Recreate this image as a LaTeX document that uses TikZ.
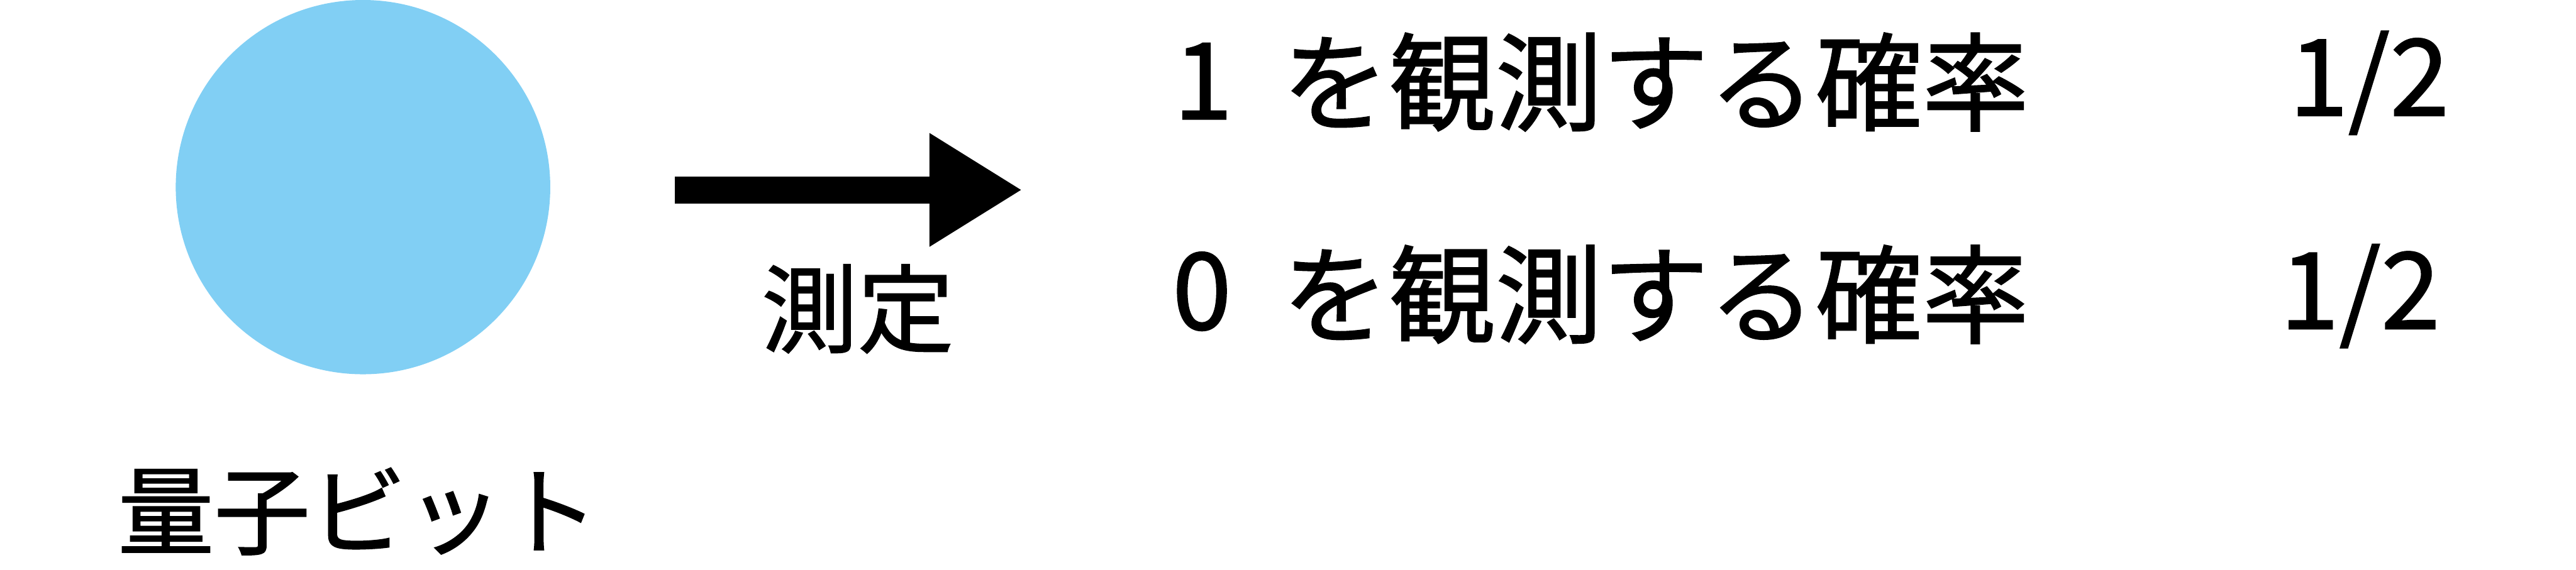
\documentclass[tikz,border=0pt]{standalone}
\usepackage{fontspec}
\setmainfont{Noto Sans CJK JP}[FakeBold=1.2]
\usetikzlibrary{arrows.meta}
\definecolor{qblue}{RGB}{129,207,244}
\tikzset{
  bigtext/.style={inner sep=0pt, font=\fontsize{71}{85}\selectfont},
  midtext/.style={inner sep=0pt, font=\fontsize{64}{77}\selectfont},
  bigarrow/.style={line width=0.63cm, -{Triangle[length=2.17cm,width=2.5cm]}}
}
\begin{document}
\begin{tikzpicture}
\useasboundingbox (0,0) rectangle (60.25,-13.34);
\node[circle, fill=qblue, minimum size=8.76cm, inner sep=0pt] (qbit) at (8.49,-4.38) {};
\node[midtext] (qlabel) at (8.38,-11.97) {量子ビット};
\coordinate (arrS) at (15.79,-4.445);
\coordinate (arrE) at (23.91,-4.445);
\draw[bigarrow] (arrS) -- (arrE);
\node[midtext] (meas) at (20.06,-7.23) {測定};
\node[bigtext] (one) at (28.14,-1.90) {1};
\node[bigtext, anchor=west] (p1) at (29.98,-1.92) {を観測する確率};
\node[bigtext] (h1) at (55.41,-1.94) {1/2};
\node[bigtext] (zero) at (28.11,-6.82) {0};
\node[bigtext, anchor=west] (p0) at (29.98,-6.89) {を観測する確率};
\node[bigtext] (h0) at (55.20,-6.93) {1/2};
\end{tikzpicture}
\end{document}
